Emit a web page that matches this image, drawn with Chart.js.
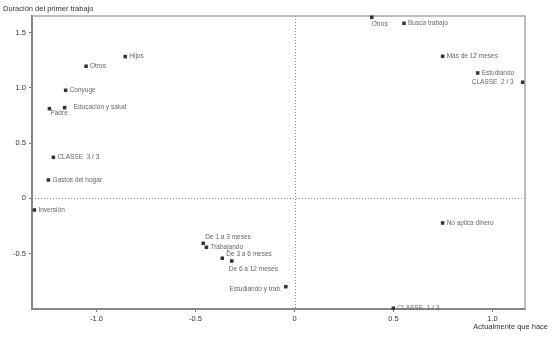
<!DOCTYPE html>
<html>
<head>
<meta charset="utf-8">
<script src="https://cdn.jsdelivr.net/npm/chart.js@4"></script>
<style>
  html, body { margin: 0; padding: 0; background: #fff; }
  #wrap { position: relative; width: 553px; height: 344px; }
</style>
</head>
<body>
<div id="wrap"><canvas id="chart"></canvas></div>
<script>
// Category names, coordinates
const names = [
    'Hijos', 'Otros', 'Conyuge', 'Educación y salud', 'Padre',
    'CLASSE  3 / 3', 'Gastos del hogar', 'Inversión',
    'De 1 a 3 meses', 'Trabajando', 'De 3 a 6 meses', 'De 6 a 12 meses',
    'Estudiando y trab.', 'CLASSE  1 / 3', 'No aplica dinero',
    'Otros', 'Busca trabajo', 'Más de 12 meses', 'Estudiando', 'CLASSE  2 / 3'
];
const xValues = [
    -0.855, -1.053, -1.156, -1.161, -1.238,
    -1.218, -1.243, -1.314,
    -0.461, -0.445, -0.365, -0.317,
    -0.044, 0.499, 0.748,
    0.390, 0.553, 0.748, 0.925, 1.152
];
const yValues = [
    1.283, 1.196, 0.978, 0.821, 0.812,
    0.371, 0.166, -0.106,
    -0.408, -0.444, -0.543, -0.568,
    -0.801, -0.996, -0.224,
    1.639, 1.585, 1.286, 1.135, 1.051
];

// Axis ranges and ticks
const xRange = [-1.326, 1.164];
const yRange = [-1.003, 1.651];
const xTicks = [-1.0, -0.5, 0, 0.5, 1.0];
const yTicks = [-0.5, 0, 0.5, 1.0, 1.5];
const xTitle = 'Actualmente que hace';
const yTitle = 'Duración del primer trabajo';

// How each label sits next to its marker (by index)
const placement = {
    3: { dx: 9, dy: 0, align: 'left' },        // Educación y salud
    4: { dx: 1, dy: 5, align: 'left' },        // Padre
    8: { dx: 2, dy: -6, align: 'left' },       // De 1 a 3 meses
    10: { dx: 4, dy: -4, align: 'left' },      // De 3 a 6 meses
    11: { dx: -3, dy: 8, align: 'left' },      // De 6 a 12 meses
    12: { dx: -4, dy: 3, align: 'right' },     // Estudiando y trab.
    15: { dx: 0, dy: 7, align: 'left' },       // Otros (right)
    19: { dx: -9, dy: 0, align: 'right' }      // CLASSE 2/3
};

const points = names.map((n, i) => ({ x: xValues[i], y: yValues[i] }));

const pointLabels = {
    id: 'pointLabels',
    afterDatasetsDraw(chart) {
        const ctx = chart.ctx;
        const meta = chart.getDatasetMeta(0);
        ctx.save();
        ctx.font = '6.5px "Liberation Sans", Arial, sans-serif';
        ctx.fillStyle = '#666';
        ctx.textBaseline = 'middle';
        meta.data.forEach((pt, i) => {
            const p = placement[i] || { dx: 4, dy: 0, align: 'left' };
            ctx.textAlign = p.align;
            ctx.fillText(names[i], pt.x + p.dx, pt.y + p.dy);
        });
        ctx.restore();
    }
};

const frame = {
    id: 'frame',
    beforeDatasetsDraw(chart) {
        const { ctx, chartArea: a, scales } = chart;
        ctx.save();
        // dotted zero lines
        ctx.strokeStyle = '#888';
        ctx.lineWidth = 1;
        ctx.setLineDash([1, 2]);
        const x0 = Math.round(scales.x.getPixelForValue(0)) + 0.5;
        const y0 = Math.round(scales.y.getPixelForValue(0)) + 0.5;
        ctx.beginPath();
        ctx.moveTo(x0, a.top); ctx.lineTo(x0, a.bottom);
        ctx.moveTo(a.left, y0); ctx.lineTo(a.right, y0);
        ctx.stroke();
        ctx.setLineDash([]);
        // top and right border
        ctx.strokeStyle = '#a8a8a8';
        ctx.lineWidth = 1.5;
        ctx.beginPath();
        ctx.moveTo(a.left, a.top); ctx.lineTo(a.right, a.top); ctx.lineTo(a.right, a.bottom);
        ctx.stroke();
        ctx.restore();
    },
    afterDraw(chart) {
        const ctx = chart.ctx;
        const a = chart.chartArea;
        ctx.save();
        ctx.font = '7.5px "Liberation Sans", Arial, sans-serif';
        ctx.fillStyle = '#333';
        ctx.textBaseline = 'middle';
        ctx.textAlign = 'left';
        ctx.fillText(yTitle, 3, 9);
        ctx.textAlign = 'right';
        ctx.fillText(xTitle, 548, a.bottom + 18);
        ctx.restore();
    }
};

new Chart(document.getElementById('chart'), {
    type: 'scatter',
    data: {
        datasets: [{
            data: points,
            pointStyle: 'rect',
            pointRadius: 2.5,
            pointHoverRadius: 2.5,
            backgroundColor: '#333',
            borderColor: '#333',
            borderWidth: 0,
            clip: false
        }]
    },
    options: {
        responsive: true,
        maintainAspectRatio: false,
        animation: false,
        events: [],
        layout: { padding: { top: 16, right: 28, left: 0, bottom: 0 } },
        plugins: { legend: { display: false }, tooltip: { enabled: false } },
        scales: {
            x: {
                type: 'linear',
                min: xRange[0],
                max: xRange[1],
                afterBuildTicks: s => { s.ticks = xTicks.map(v => ({ value: v })); },
                afterFit: s => { s.height = 35; },
                grid: { drawOnChartArea: false, tickLength: 3, color: '#777', tickColor: '#777' },
                border: { color: '#888', width: 2 },
                ticks: {
                    font: { size: 7.5, family: '"Liberation Sans", Arial, sans-serif' },
                    color: '#333',
                    padding: 2,
                    maxRotation: 0,
                    callback: v => v === 0 ? '0' : v.toFixed(1)
                }
            },
            y: {
                type: 'linear',
                min: yRange[0],
                max: yRange[1],
                afterBuildTicks: s => { s.ticks = yTicks.map(v => ({ value: v })); },
                afterFit: s => { s.width = 32; },
                grid: { drawOnChartArea: false, tickLength: 3, color: '#777', tickColor: '#777' },
                border: { color: '#888', width: 2 },
                ticks: {
                    font: { size: 7.5, family: '"Liberation Sans", Arial, sans-serif' },
                    color: '#333',
                    padding: 3,
                    callback: v => v === 0 ? '0' : v.toFixed(1)
                }
            }
        }
    },
    plugins: [frame, pointLabels]
});
</script>
</body>
</html>
